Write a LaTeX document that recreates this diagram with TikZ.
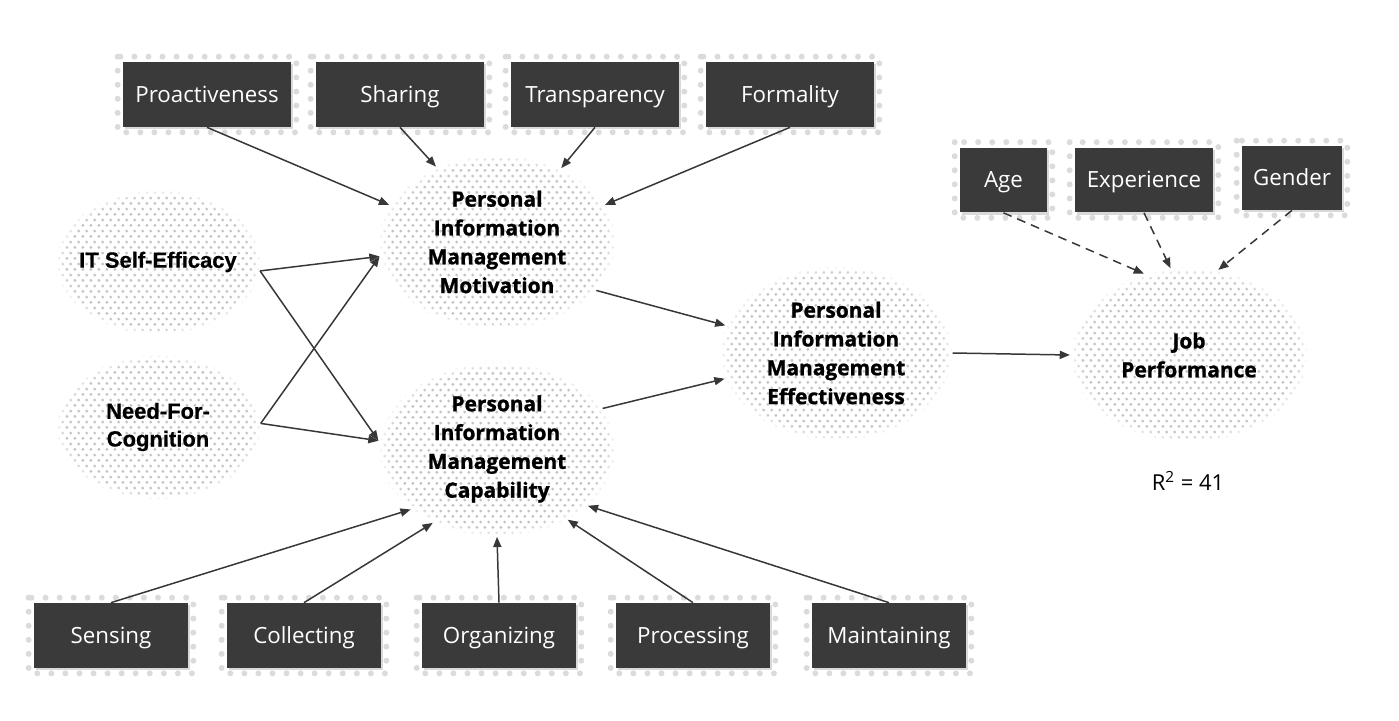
\documentclass[tikz,border=0pt]{standalone}
\usepackage{fontspec}
\setmainfont{Open Sans}
\newfontfamily\arialfont{Liberation Sans}[BoldFeatures={FakeBold=0.6}]
\newfontfamily\heavyfont{Open Sans}[BoldFeatures={FakeBold=1.2}]
\usetikzlibrary{shapes.geometric,arrows.meta,patterns.meta,backgrounds,shadows,fadings}

\definecolor{boxgray}{RGB}{58,58,58}
\definecolor{dotgray}{RGB}{196,196,196}
\definecolor{linegray}{RGB}{55,55,55}

\tikzdeclarepattern{
  name=softdots,
  type=uncolored,
  bounding box={(0,0) and (4.7pt,6.4pt)},
  tile size={(4.7pt,6.4pt)},
  code={
    \fill (1.175pt,1.6pt) circle [radius=0.95pt];
    \fill (3.525pt,4.8pt) circle [radius=0.95pt];
  }
}

\tikzset{
  factor/.style={rectangle, fill=boxgray, text=white, minimum height=1.3cm,
    inner sep=0pt, text height=11.6pt, text depth=2.9pt, font=\fontsize{12.7}{15}\selectfont,
    drop shadow={shadow xshift=1.2pt, shadow yshift=-1.2pt, opacity=0.3}},
  construct/.style={ellipse, pattern=softdots, pattern color=dotgray,
    path fading=circle with fuzzy edge 10 percent, fit fading=true,
    inner sep=0pt, align=center, font=\heavyfont\bfseries\fontsize{11.9}{16.4}\selectfont},
  bigconstruct/.style={construct, minimum width=4.75cm, minimum height=3.5cm},
  smallconstruct/.style={construct, minimum width=4.1cm, minimum height=2.9cm, inner xsep=-5pt,
    font=\arialfont\bfseries\fontsize{12.5}{15.8}\selectfont},
  halo/.style={draw=gray!28, line width=3.4pt, dash pattern=on 0pt off 8pt, line cap=round},
  link/.style={draw=linegray, line width=0.85pt, -{Triangle[length=5.8pt,width=4.6pt]}},
  dlink/.style={link, dash pattern=on 5pt off 3.5pt}
}

\begin{document}
\begin{tikzpicture}[x=0.02cm, y=-0.02cm]
\useasboundingbox (0,0) rectangle (1399,720);

% constructs
\node[smallconstruct] (itse) at (158,262) {IT Self-Efficacy};
\node[smallconstruct] (nfc) at (158,427) {Need-For-\\Cognition};
\node[bigconstruct] (pimm) at (497,242) {Personal\\Information\\Management\\Motivation};
\node[bigconstruct] (pimc) at (497,449) {Personal\\Information\\Management\\Capability};
\node[bigconstruct, minimum width=4.65cm] (pime) at (836,353) {Personal\\Information\\Management\\Effectiveness};
\node[bigconstruct] (jobp) at (1189,355) {Job\\Performance};
\node[font=\fontsize{12.5}{15}\selectfont] (rsq) at (1188,481) {R\textsuperscript{2} = 41};

% factors
\node[factor, minimum width=3.36cm] (proact) at (207,94.5) {Proactiveness};
\node[factor, minimum width=3.36cm] (sharing) at (400,94.5) {Sharing};
\node[factor, minimum width=3.36cm] (transp) at (595,94.5) {Transparency};
\node[factor, minimum width=3.36cm] (formal) at (790,94.5) {Formality};

\node[factor, minimum width=1.74cm] (age) at (1003.5,180) {Age};
\node[factor, minimum width=2.76cm] (exper) at (1144,180) {Experience};
\node[factor, minimum width=2cm, minimum height=1.28cm] (gender) at (1292,178) {Gender};

\node[factor, minimum width=3.08cm] (sensing) at (111,635.5) {Sensing};
\node[factor, minimum width=3.08cm] (collect) at (304,635.5) {Collecting};
\node[factor, minimum width=3.08cm] (organize) at (499,635.5) {Organizing};
\node[factor, minimum width=3.08cm] (process) at (693,635.5) {Processing};
\node[factor, minimum width=3.08cm] (maintain) at (889,635.5) {Maintaining};

\begin{scope}[on background layer]
\foreach \n in {proact,sharing,transp,formal,age,exper,gender,sensing,collect,organize,process,maintain}
  \draw[halo] ([shift={(-5,-5)}]\n.north west) rectangle ([shift={(5,5)}]\n.south east);
\end{scope}

% arrows
\draw[link] (proact.south) -- (pimm.161);
\draw[link] (sharing.south) -- (pimm.129);
\draw[link] (transp.south) -- (pimm.49);
\draw[link] (formal.south) -- (pimm.19);

\draw[link] (itse.355) -- (pimm.187);
\draw[link] (itse.355) -- (pimc.176);
\draw[link] (nfc.2) -- (pimm.187);
\draw[link] (nfc.2) -- (pimc.176);

\draw[link] (sensing.north) -- (pimc.215);
\draw[link] (collect.north) -- (pimc.229);
\draw[link] (organize.north) -- (pimc.270);
\draw[link] (process.north) -- (pimc.315);
\draw[link] (maintain.north) -- (pimc.328);

\draw[link] (pimm.334) -- (pime.166);
\draw[link] (pimc.21) -- (pime.193);
\draw[link] (pime.east) -- (jobp.west);

\draw[dlink] (age.south) -- (jobp.119);
\draw[dlink] (exper.south) -- (jobp.102);
\draw[dlink] (gender.south) -- (jobp.71);
\end{tikzpicture}
\end{document}
